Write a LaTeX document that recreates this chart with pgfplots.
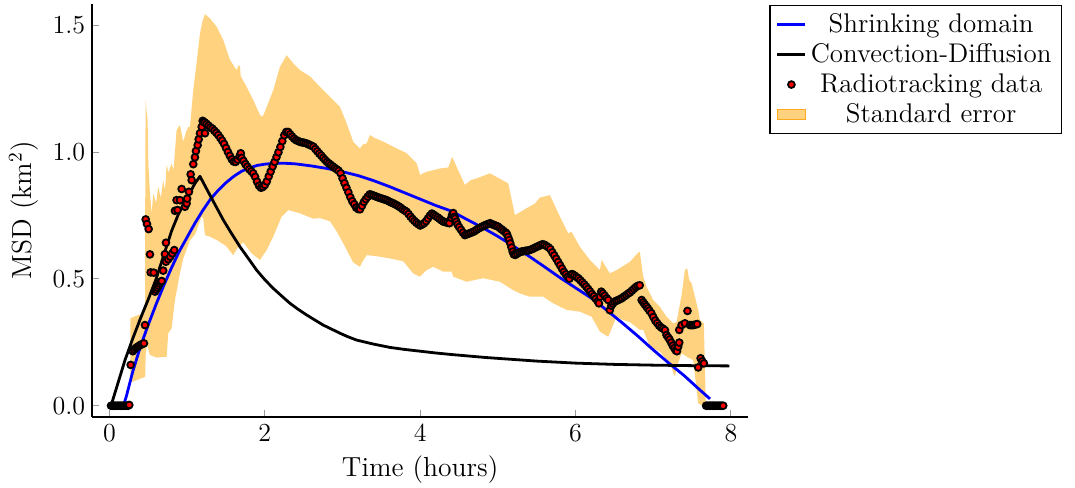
\documentclass[border=0pt]{standalone}
\usepackage{fontspec}
\usepackage{pgfplots}
\pgfplotsset{compat=1.18}

\definecolor{bandfill}{RGB}{255,210,128}
\definecolor{bandedge}{RGB}{255,170,30}

\begin{document}
\begin{tikzpicture}
\useasboundingbox (-46.15pt,-35.15pt) rectangle (491.35pt,208.35pt);
\begin{axis}[
  at={(0,0)}, anchor=south west,
  scale only axis, width=327.85pt, height=206.35pt,
  xmin=-0.221, xmax=8.219, ymin=-0.0434, ymax=1.585,
  axis x line*=bottom, axis y line*=left,
  axis line style={-, line width=0.8pt, black},
  tick align=inside, major tick length=3.2pt,
  tick style={black!40, line width=0.5pt},
  xtick={0,2,4,6,8}, ytick={0,0.5,1,1.5},
  /pgf/number format/assume math mode=true,
  ticklabel style={font=\fontsize{13}{15}\selectfont},
  yticklabel style={/pgf/number format/.cd, fixed, fixed zerofill, precision=1},
  xlabel={Time (hours)},
  ylabel={MSD (km\textsuperscript{2})},
  label style={font=\fontsize{13.8}{16}\selectfont},
  xlabel style={at={(axis description cs:0.5,-0.1454)}, anchor=base},
  ylabel style={at={(axis description cs:-0.092,0.5)}, anchor=base, rotate=0},
  legend cell align=center,
  legend style={at={(1.0325,0.9976)}, anchor=north west, draw=black,
    line width=0.7pt, font=\fontsize{13.5}{16}\selectfont, row sep=0pt},
  legend image code/.code={\draw[mark repeat=2,mark phase=2,#1]
    plot coordinates {(0pt,0pt)(7pt,0pt)(14pt,0pt)};},
]

% standard error band (upper edge left to right, lower edge back)
\addplot[fill=bandfill, draw=none, forget plot] coordinates {
(0.27,0.345)(0.37,0.358)(0.44,0.36)(0.457,0.37)(0.462,1.0)(0.466,1.206)(0.475,1.17)(0.491,1.127)
(0.50,0.956)(0.521,0.838)(0.543,0.759)(0.564,0.838)(0.60,0.80)(0.628,0.864)(0.66,0.82)(0.692,0.89)
(0.715,0.85)(0.736,0.95)(0.76,0.92)(0.80,0.956)(0.825,0.93)(0.864,1.088)(0.907,1.107)(0.95,1.041)
(0.985,1.08)(1.015,1.10)(1.036,1.10)(1.08,1.25)(1.12,1.35)(1.165,1.469)(1.20,1.52)(1.229,1.545)
(1.293,1.528)(1.38,1.495)(1.465,1.443)(1.551,1.364)(1.637,1.324)(1.665,1.345)(1.68,1.337)(1.69,1.30)
(1.766,1.258)(1.851,1.206)(1.937,1.147)(1.97,1.14)(2.0,1.16)(2.108,1.245)(2.194,1.337)(2.28,1.383)
(2.366,1.351)(2.452,1.324)(2.58,1.30)(2.709,1.258)(2.838,1.219)(2.967,1.179)(3.053,1.114)(3.138,1.041)
(3.224,1.015)(3.26,1.03)(3.31,1.035)(3.353,1.068)(3.42,1.055)(3.481,1.048)(3.653,1.022)(3.825,0.996)
(3.954,0.956)(4.00,0.91)(4.039,0.917)(4.082,0.923)(4.254,0.936)(4.36,0.94)(4.412,0.982)(4.468,0.943)
(4.575,0.871)(4.65,0.89)(4.726,0.897)(4.897,0.917)(5.133,0.877)(5.219,0.752)(5.369,0.779)(5.476,0.798)
(5.541,0.821)(5.669,0.831)(5.798,0.746)(5.905,0.68)(5.948,0.686)(6.055,0.627)(6.184,0.575)(6.313,0.535)
(6.335,0.575)(6.441,0.522)(6.527,0.535)(6.699,0.568)(6.806,0.604)(6.827,0.607)(6.87,0.509)(6.914,0.469)
(6.999,0.417)(7.085,0.39)(7.171,0.351)(7.256,0.325)(7.30,0.33)(7.364,0.437)(7.407,0.535)(7.436,0.542)
(7.462,0.496)(7.493,0.483)(7.578,0.378)(7.60,0.338)(7.651,0.325)(7.664,0.154)(7.677,0.0)
(7.664,0.003)(7.622,0.003)(7.578,0.009)(7.514,0.18)(7.45,0.19)(7.364,0.207)(7.30,0.15)(7.278,0.114)
(7.214,0.167)(7.085,0.213)(6.956,0.233)(6.87,0.30)(6.827,0.299)(6.70,0.33)(6.613,0.338)(6.527,0.351)
(6.42,0.272)(6.313,0.292)(6.206,0.351)(6.055,0.371)(5.884,0.378)(5.712,0.404)(5.583,0.43)(5.412,0.43)
(5.283,0.443)(5.197,0.456)(5.026,0.489)(4.811,0.503)(4.597,0.489)(4.425,0.509)(4.404,0.529)(4.296,0.529)
(4.168,0.548)(4.082,0.535)(3.996,0.509)(3.91,0.522)(3.781,0.570)(3.61,0.581)(3.439,0.59)(3.31,0.594)
(3.26,0.57)(3.224,0.548)(3.138,0.565)(3.009,0.641)(2.924,0.688)(2.838,0.728)(2.709,0.74)(2.623,0.738)
(2.452,0.759)(2.301,0.772)(2.216,0.746)(2.108,0.667)(2.023,0.614)(1.937,0.575)(1.83,0.601)(1.722,0.645)
(1.658,0.627)(1.593,0.594)(1.50,0.63)(1.38,0.654)(1.293,0.667)(1.229,0.673)(1.207,0.739)(1.187,0.746)
(1.1,0.675)(1.036,0.653)(0.95,0.581)(0.907,0.522)(0.843,0.417)(0.80,0.305)(0.757,0.286)(0.736,0.193)
(0.607,0.19)(0.52,0.20)(0.48,0.246)(0.466,0.2)(0.46,0.114)(0.30,0.095)(0.27,0.095)
} -- cycle;

% shrinking domain model
\addplot[blue, line width=1.4pt, line join=round] coordinates {
(0.18,0.0)(0.22,0.04)(0.30,0.135)(0.40,0.235)(0.50,0.32)(0.60,0.40)(0.70,0.475)(0.80,0.545)
(0.90,0.61)(1.00,0.665)(1.10,0.72)(1.20,0.77)(1.30,0.815)(1.40,0.85)(1.50,0.88)(1.60,0.905)
(1.70,0.925)(1.80,0.938)(1.90,0.948)(2.00,0.953)(2.10,0.956)(2.20,0.957)(2.30,0.956)(2.40,0.954)
(2.60,0.946)(2.80,0.936)(3.00,0.923)(3.20,0.908)(3.40,0.888)(3.60,0.865)(3.80,0.84)(4.00,0.815)
(4.20,0.79)(4.40,0.768)(4.60,0.735)(4.80,0.703)(5.00,0.668)(5.20,0.63)(5.40,0.59)(5.60,0.548)
(5.80,0.505)(6.00,0.465)(6.20,0.425)(6.40,0.377)(6.60,0.327)(6.80,0.275)(7.00,0.22)(7.20,0.168)
(7.40,0.118)(7.60,0.062)(7.73,0.027)
};
\addlegendentry{Shrinking domain}

% convection-diffusion model
\addplot[black, line width=1.4pt, line join=round] coordinates {
(0.02,0.0)(0.10,0.08)(0.20,0.18)(0.30,0.265)(0.40,0.345)(0.50,0.42)(0.60,0.50)(0.70,0.595)
(0.80,0.69)(0.90,0.765)(1.00,0.82)(1.10,0.877)(1.165,0.905)(1.293,0.831)(1.40,0.77)(1.465,0.733)
(1.57,0.68)(1.68,0.627)(1.79,0.58)(1.894,0.535)(2.00,0.497)(2.108,0.463)(2.22,0.432)(2.323,0.404)
(2.43,0.38)(2.538,0.358)(2.65,0.337)(2.752,0.318)(2.86,0.302)(2.967,0.286)(3.07,0.272)(3.181,0.259)
(3.40,0.243)(3.61,0.230)(3.80,0.222)(4.00,0.215)(4.20,0.208)(4.40,0.202)(4.85,0.19)(5.50,0.176)
(6.00,0.168)(6.50,0.163)(7.00,0.160)(7.50,0.158)(7.98,0.157)
};
\addlegendentry{Convection-Diffusion}

% radiotracking observations
\addplot[only marks, mark=*, mark size=1.7pt,
  mark options={fill=red, draw=black, line width=0.9pt}] coordinates {
(0.02,0)(0.04,0)(0.06,0)(0.08,0)(0.10,0)(0.12,0)(0.14,0)(0.16,0)(0.18,0)(0.20,0)(0.22,0)(0.24,0)(0.255,0.003)
(0.273,0.161)(0.30,0.215)(0.32,0.222)(0.34,0.228)(0.36,0.232)(0.38,0.236)(0.40,0.24)(0.42,0.243)(0.444,0.246)
(0.457,0.318)(0.466,0.735)(0.483,0.717)(0.504,0.697)(0.521,0.597)(0.53,0.526)(0.569,0.525)(0.586,0.45)
(0.60,0.458)(0.615,0.466)(0.63,0.474)(0.645,0.482)(0.659,0.489)(0.672,0.492)(0.692,0.533)(0.714,0.598)
(0.727,0.643)(0.727,0.568)(0.757,0.578)(0.782,0.588)(0.809,0.601)(0.834,0.614)(0.843,0.769)(0.864,0.811)
(0.877,0.772)(0.907,0.811)(0.929,0.855)(0.972,0.785)(0.993,0.798)(1.0,0.817)(1.023,0.844)(1.045,0.913)
(1.058,0.89)(1.079,0.953)(1.1,0.98)(1.113,1.005)(1.135,1.028)(1.148,1.051)(1.165,1.075)(1.187,1.1)
(1.2,1.124)(1.207,1.12)(1.229,1.075)
(1.225,1.118)(1.250,1.112)(1.275,1.105)(1.300,1.098)(1.325,1.093)(1.350,1.085)(1.375,1.077)(1.400,1.068)
(1.425,1.057)(1.450,1.046)(1.475,1.033)(1.500,1.017)(1.525,1.001)(1.550,0.986)(1.575,0.972)(1.600,0.963)
(1.625,0.962)(1.650,0.971)(1.675,0.984)(1.690,0.996)(1.700,0.978)(1.725,0.966)(1.750,0.953)(1.775,0.943)
(1.800,0.933)(1.825,0.925)(1.850,0.917)(1.875,0.903)(1.900,0.884)(1.925,0.868)(1.950,0.860)(1.975,0.863)
(2.000,0.871)(2.025,0.885)(2.050,0.905)(2.075,0.924)(2.100,0.944)(2.125,0.962)(2.150,0.981)(2.175,1.000)
(2.200,1.021)(2.225,1.044)(2.250,1.067)(2.275,1.080)(2.300,1.080)(2.325,1.071)(2.350,1.062)(2.375,1.054)
(2.400,1.048)(2.425,1.045)(2.450,1.041)(2.475,1.039)(2.500,1.038)(2.525,1.036)(2.550,1.033)(2.575,1.029)
(2.600,1.026)(2.625,1.022)(2.650,1.013)(2.675,1.004)(2.700,0.995)(2.725,0.987)(2.750,0.978)(2.775,0.970)
(2.800,0.962)(2.825,0.956)(2.850,0.950)(2.875,0.944)(2.900,0.938)(2.925,0.933)(2.950,0.927)(2.975,0.917)
(3.000,0.897)(3.025,0.878)(3.050,0.860)(3.075,0.842)(3.100,0.823)(3.125,0.807)(3.150,0.795)(3.175,0.782)
(3.200,0.776)(3.225,0.775)(3.250,0.789)(3.275,0.804)(3.300,0.815)(3.325,0.825)(3.350,0.834)(3.375,0.832)
(3.400,0.829)(3.425,0.826)(3.450,0.823)(3.475,0.820)(3.500,0.818)(3.525,0.815)(3.550,0.813)(3.575,0.810)
(3.600,0.806)(3.625,0.802)(3.650,0.799)(3.675,0.795)(3.700,0.791)(3.725,0.786)(3.750,0.781)(3.775,0.775)
(3.800,0.770)(3.825,0.765)(3.850,0.756)(3.875,0.746)(3.900,0.737)(3.925,0.729)(3.950,0.722)(3.975,0.716)
(4.000,0.711)(4.025,0.715)(4.050,0.720)(4.075,0.728)(4.100,0.739)(4.125,0.750)(4.150,0.758)(4.175,0.753)
(4.200,0.748)(4.225,0.743)(4.250,0.737)(4.275,0.731)(4.300,0.726)(4.325,0.724)(4.350,0.722)(4.375,0.720)
(4.400,0.741)(4.410,0.753)(4.425,0.760)(4.440,0.745)(4.450,0.738)(4.465,0.726)(4.480,0.715)(4.500,0.705)
(4.525,0.694)(4.550,0.683)(4.575,0.673)(4.600,0.676)(4.625,0.679)(4.650,0.682)(4.675,0.685)(4.700,0.689)
(4.725,0.694)(4.750,0.699)(4.775,0.703)(4.800,0.707)(4.825,0.711)(4.850,0.714)(4.875,0.717)(4.900,0.720)
(4.925,0.716)(4.950,0.713)(4.975,0.710)(5.000,0.707)(5.025,0.701)(5.050,0.695)(5.075,0.689)(5.100,0.683)
(5.115,0.678)(5.130,0.666)(5.145,0.654)(5.160,0.640)(5.175,0.624)(5.190,0.608)(5.205,0.597)(5.225,0.595)
(5.250,0.600)(5.275,0.605)(5.300,0.608)(5.325,0.609)(5.350,0.611)(5.375,0.612)(5.400,0.613)(5.425,0.616)
(5.450,0.619)(5.475,0.623)(5.500,0.627)(5.525,0.630)(5.550,0.634)(5.575,0.637)(5.600,0.635)(5.625,0.630)
(5.650,0.625)(5.675,0.618)(5.700,0.605)(5.725,0.593)(5.750,0.580)(5.775,0.567)(5.800,0.554)(5.825,0.541)
(5.850,0.528)(5.875,0.518)(5.900,0.509)(5.920,0.501)(5.940,0.518)(5.960,0.519)(5.985,0.514)(6.010,0.508)
(6.035,0.503)(6.060,0.495)(6.085,0.487)(6.110,0.479)(6.135,0.470)(6.160,0.461)(6.185,0.451)(6.210,0.441)
(6.235,0.432)(6.260,0.422)(6.285,0.412)(6.300,0.404)(6.315,0.430)(6.330,0.450)(6.350,0.443)(6.375,0.434)
(6.400,0.424)(6.420,0.417)(6.440,0.377)(6.460,0.395)(6.480,0.403)(6.500,0.410)(6.525,0.414)(6.550,0.417)
(6.575,0.421)(6.600,0.425)(6.625,0.431)(6.650,0.436)(6.675,0.442)(6.700,0.447)(6.725,0.454)(6.750,0.461)
(6.775,0.468)(6.800,0.473)(6.825,0.475)(6.850,0.417)(6.870,0.408)(6.890,0.400)(6.910,0.392)(6.930,0.384)
(6.950,0.375)(6.975,0.365)(7.000,0.350)(7.025,0.336)(7.050,0.326)(7.075,0.316)(7.100,0.309)(7.125,0.304)
(7.150,0.298)(7.170,0.279)(7.190,0.270)(7.210,0.261)(7.230,0.249)(7.250,0.237)(7.270,0.227)(7.290,0.218)
(7.305,0.215)(7.320,0.233)(7.334,0.249)
(7.334,0.299)(7.364,0.318)(7.407,0.325)(7.44,0.374)(7.471,0.318)(7.49,0.318)(7.514,0.318)(7.54,0.32)
(7.565,0.322)(7.578,0.151)(7.609,0.187)(7.63,0.175)(7.651,0.167)
(7.68,0)(7.70,0)(7.72,0)(7.74,0)(7.76,0)(7.78,0)(7.80,0)(7.82,0)(7.84,0)(7.86,0)(7.88,0)(7.90,0)
};
\addlegendentry{Radiotracking data}

\addlegendimage{legend image code/.code={\draw[fill=bandfill, draw=bandedge, line width=0.5pt] (0pt,-2.5pt) rectangle (14pt,2.5pt);}}
\addlegendentry{Standard error}

\end{axis}
\end{tikzpicture}
\end{document}
